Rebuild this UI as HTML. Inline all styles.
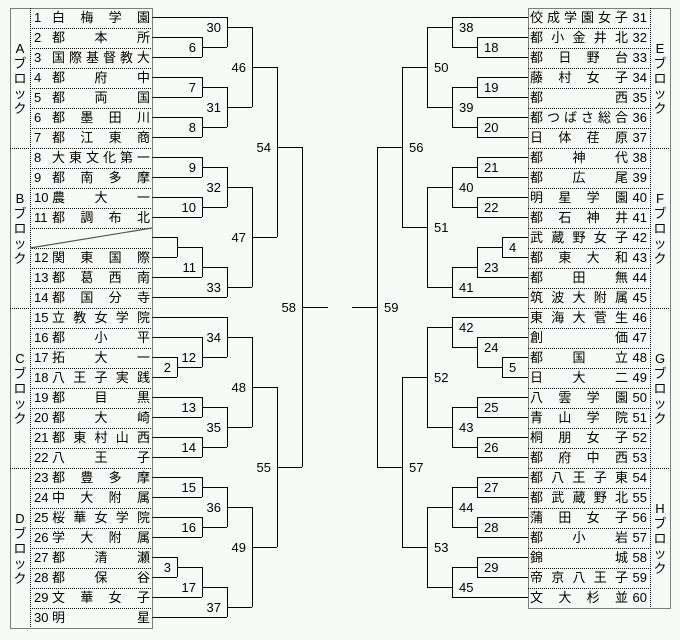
<!DOCTYPE html>
<html><head><meta charset="utf-8">
<style>
html,body{margin:0;padding:0}
body{width:680px;height:640px;position:relative;background:#f7fbf7;font-family:"Liberation Sans","Noto Sans CJK JP",sans-serif;font-size:13px;color:#000;overflow:hidden}
.L,.R{position:absolute;height:20px;width:122px}
.L{left:30px}.R{left:528px}
.n{position:absolute;top:2px;line-height:16px}
.L .n{left:4px}.R .n{right:3px}
.m{position:absolute;top:2px;line-height:16px;display:flex;justify-content:space-between}
.L .m{left:22px;right:2px}.R .m{left:2px;right:22px}
.m i{font-style:normal}
.blk{position:absolute;width:20px;display:flex;flex-direction:column;align-items:center;justify-content:center;line-height:15px;font-size:13px}
svg{position:absolute;left:0;top:0}
</style></head><body>
<svg width="680" height="640" xmlns="http://www.w3.org/2000/svg">
<g fill="none" stroke="#000" stroke-width="1" stroke-dasharray="1,1" shape-rendering="crispEdges">
<rect x="10.5" y="8.5" width="142" height="620"/>
<line x1="30.5" y1="8" x2="30.5" y2="628"/>
<path d="M30 28.5H152M30 48.5H152M30 68.5H152M30 88.5H152M30 108.5H152M30 128.5H152M10 148.5H152M30 168.5H152M30 188.5H152M30 208.5H152M30 228.5H152M30 248.5H152M30 268.5H152M30 288.5H152M10 308.5H152M30 328.5H152M30 348.5H152M30 368.5H152M30 388.5H152M30 408.5H152M30 428.5H152M30 448.5H152M10 468.5H152M30 488.5H152M30 508.5H152M30 528.5H152M30 548.5H152M30 568.5H152M30 588.5H152M30 608.5H152"/>
<rect x="528.5" y="8.5" width="142" height="600"/>
<line x1="650.5" y1="8" x2="650.5" y2="608"/>
<path d="M528 28.5H650M528 48.5H650M528 68.5H650M528 88.5H650M528 108.5H650M528 128.5H650M528 148.5H670M528 168.5H650M528 188.5H650M528 208.5H650M528 228.5H650M528 248.5H650M528 268.5H650M528 288.5H650M528 308.5H670M528 328.5H650M528 348.5H650M528 368.5H650M528 388.5H650M528 408.5H650M528 428.5H650M528 448.5H650M528 468.5H670M528 488.5H650M528 508.5H650M528 528.5H650M528 548.5H650M528 568.5H650M528 588.5H650"/>
</g>
<line x1="30" y1="248" x2="152" y2="228" stroke="#555" stroke-width="1.2"/>
<g fill="none" stroke="#000" stroke-width="1">
<path d="M152 17.5H227M152 37.5H202M152 57.5H202M152 77.5H202M152 97.5H202M152 117.5H202M152 137.5H202M152 157.5H202M152 177.5H202M152 197.5H202M152 217.5H202M152 237.5H177M152 257.5H177M152 277.5H202M152 297.5H227M152 317.5H227M152 337.5H202M152 357.5H177M152 377.5H177M152 397.5H202M152 417.5H202M152 437.5H202M152 457.5H202M152 477.5H202M152 497.5H202M152 517.5H202M152 537.5H202M152 557.5H177M152 577.5H177M152 597.5H202M152 617.5H227"/>
<path d="
M202.5 37V57M202 47.5H227
M202.5 77V97M202 87.5H227
M202.5 117V137M202 127.5H227
M227.5 17V47M227 27.5H252
M227.5 87V127M227 107.5H252
M252.5 27V107M252 67.5H277
M202.5 157V177M202 167.5H227
M202.5 197V217M202 207.5H227
M227.5 167V207M227 187.5H252
M177.5 237V257M177 247.5H202
M202.5 247V277M202 267.5H227
M227.5 267V297M227 287.5H252
M252.5 187V287M252 237.5H277
M277.5 67V237M277 147.5H302
M177.5 357V377M177 367.5H202
M202.5 337V367M202 357.5H227
M227.5 317V357M227 337.5H252
M202.5 397V417M202 407.5H227
M202.5 437V457M202 447.5H227
M227.5 407V447M227 427.5H252
M252.5 337V427M252 387.5H277
M202.5 477V497M202 487.5H227
M202.5 517V537M202 527.5H227
M227.5 487V527M227 507.5H252
M177.5 557V577M177 567.5H202
M202.5 567V597M202 587.5H227
M227.5 587V617M227 607.5H252
M252.5 507V607M252 547.5H277
M277.5 387V547M277 467.5H302
M302.5 147V467M302 307.5H328"/>
<path d="M528 17.5H452M528 37.5H477M528 57.5H477M528 77.5H477M528 97.5H477M528 117.5H477M528 137.5H477M528 157.5H477M528 177.5H477M528 197.5H477M528 217.5H477M528 237.5H502M528 257.5H502M528 277.5H477M528 297.5H452M528 317.5H452M528 337.5H477M528 357.5H502M528 377.5H502M528 397.5H477M528 417.5H477M528 437.5H477M528 457.5H477M528 477.5H477M528 497.5H477M528 517.5H477M528 537.5H477M528 557.5H477M528 577.5H477M528 597.5H452"/>
<path d="
M477.5 37V57M478 47.5H452
M452.5 17V47M453 27.5H427
M477.5 77V97M478 87.5H452
M477.5 117V137M478 127.5H452
M452.5 87V127M453 107.5H427
M427.5 27V107M428 67.5H402
M477.5 157V177M478 167.5H452
M477.5 197V217M478 207.5H452
M452.5 167V207M453 187.5H427
M502.5 237V257M503 247.5H477
M477.5 247V277M478 267.5H452
M452.5 267V297M453 287.5H427
M427.5 187V287M428 227.5H402
M402.5 67V227M403 147.5H377
M452.5 317V347M453 327.5H427
M477.5 337V367M478 347.5H452
M502.5 357V377M503 367.5H477
M477.5 397V417M478 407.5H452
M477.5 437V457M478 447.5H452
M452.5 407V447M453 427.5H427
M427.5 327V427M428 377.5H402
M477.5 477V497M478 487.5H452
M477.5 517V537M478 527.5H452
M452.5 487V527M453 507.5H427
M477.5 557V577M478 567.5H452
M452.5 567V597M453 587.5H427
M427.5 507V587M428 547.5H402
M402.5 377V547M403 467.5H377
M377.5 147V467M378 307.5H352"/>
</g>
<g font-family="Liberation Sans, sans-serif" font-size="13" fill="#000">
<g text-anchor="end">
<text x="196" y="52">6</text><text x="196" y="92">7</text><text x="196" y="132">8</text>
<text x="221" y="32">30</text><text x="221" y="112">31</text><text x="246" y="72">46</text>
<text x="196" y="172">9</text><text x="196" y="212">10</text><text x="221" y="192">32</text>
<text x="196" y="272">11</text><text x="221" y="292">33</text><text x="246" y="242">47</text>
<text x="271" y="152">54</text>
<text x="171" y="372">2</text><text x="196" y="362">12</text><text x="221" y="342">34</text>
<text x="196" y="412">13</text><text x="196" y="452">14</text><text x="221" y="432">35</text>
<text x="246" y="392">48</text>
<text x="196" y="492">15</text><text x="196" y="532">16</text><text x="221" y="512">36</text>
<text x="171" y="572">3</text><text x="196" y="592">17</text><text x="221" y="612">37</text>
<text x="246" y="552">49</text><text x="271" y="472">55</text><text x="296" y="312">58</text>
</g>
<g>
<text x="484" y="52">18</text><text x="459" y="32">38</text><text x="484" y="92">19</text>
<text x="484" y="132">20</text><text x="459" y="112">39</text><text x="434" y="72">50</text>
<text x="484" y="172">21</text><text x="484" y="212">22</text><text x="459" y="192">40</text>
<text x="509" y="252">4</text><text x="484" y="272">23</text><text x="459" y="292">41</text>
<text x="434" y="232">51</text><text x="409" y="152">56</text>
<text x="459" y="332">42</text><text x="484" y="352">24</text><text x="509" y="372">5</text>
<text x="484" y="412">25</text><text x="484" y="452">26</text><text x="459" y="432">43</text>
<text x="434" y="382">52</text>
<text x="484" y="492">27</text><text x="484" y="532">28</text><text x="459" y="512">44</text>
<text x="484" y="572">29</text><text x="459" y="592">45</text><text x="434" y="552">53</text>
<text x="409" y="472">57</text><text x="384" y="312">59</text>
</g>
</g>
</svg>

<div class="blk" style="left:10px;top:8px;height:140px"><span>A</span><span>ブ</span><span>ロ</span><span>ッ</span><span>ク</span></div>
<div class="blk" style="left:10px;top:148px;height:160px"><span>B</span><span>ブ</span><span>ロ</span><span>ッ</span><span>ク</span></div>
<div class="blk" style="left:10px;top:308px;height:160px"><span>C</span><span>ブ</span><span>ロ</span><span>ッ</span><span>ク</span></div>
<div class="blk" style="left:10px;top:468px;height:160px"><span>D</span><span>ブ</span><span>ロ</span><span>ッ</span><span>ク</span></div>
<div class="blk" style="left:650px;top:8px;height:140px"><span>E</span><span>ブ</span><span>ロ</span><span>ッ</span><span>ク</span></div>
<div class="blk" style="left:650px;top:148px;height:160px"><span>F</span><span>ブ</span><span>ロ</span><span>ッ</span><span>ク</span></div>
<div class="blk" style="left:650px;top:308px;height:160px"><span>G</span><span>ブ</span><span>ロ</span><span>ッ</span><span>ク</span></div>
<div class="blk" style="left:650px;top:468px;height:140px"><span>H</span><span>ブ</span><span>ロ</span><span>ッ</span><span>ク</span></div>

<div class="L" style="top:8px"><span class="n">1</span><span class="m"><i>白</i><i>梅</i><i>学</i><i>園</i></span></div>
<div class="L" style="top:28px"><span class="n">2</span><span class="m"><i>都</i><i>本</i><i>所</i></span></div>
<div class="L" style="top:48px"><span class="n">3</span><span class="m"><i>国</i><i>際</i><i>基</i><i>督</i><i>教</i><i>大</i></span></div>
<div class="L" style="top:68px"><span class="n">4</span><span class="m"><i>都</i><i>府</i><i>中</i></span></div>
<div class="L" style="top:88px"><span class="n">5</span><span class="m"><i>都</i><i>両</i><i>国</i></span></div>
<div class="L" style="top:108px"><span class="n">6</span><span class="m"><i>都</i><i>墨</i><i>田</i><i>川</i></span></div>
<div class="L" style="top:128px"><span class="n">7</span><span class="m"><i>都</i><i>江</i><i>東</i><i>商</i></span></div>
<div class="L" style="top:148px"><span class="n">8</span><span class="m"><i>大</i><i>東</i><i>文</i><i>化</i><i>第</i><i>一</i></span></div>
<div class="L" style="top:168px"><span class="n">9</span><span class="m"><i>都</i><i>南</i><i>多</i><i>摩</i></span></div>
<div class="L" style="top:188px"><span class="n">10</span><span class="m"><i>農</i><i>大</i><i>一</i></span></div>
<div class="L" style="top:208px"><span class="n">11</span><span class="m"><i>都</i><i>調</i><i>布</i><i>北</i></span></div>
<div class="L" style="top:248px"><span class="n">12</span><span class="m"><i>関</i><i>東</i><i>国</i><i>際</i></span></div>
<div class="L" style="top:268px"><span class="n">13</span><span class="m"><i>都</i><i>葛</i><i>西</i><i>南</i></span></div>
<div class="L" style="top:288px"><span class="n">14</span><span class="m"><i>都</i><i>国</i><i>分</i><i>寺</i></span></div>
<div class="L" style="top:308px"><span class="n">15</span><span class="m"><i>立</i><i>教</i><i>女</i><i>学</i><i>院</i></span></div>
<div class="L" style="top:328px"><span class="n">16</span><span class="m"><i>都</i><i>小</i><i>平</i></span></div>
<div class="L" style="top:348px"><span class="n">17</span><span class="m"><i>拓</i><i>大</i><i>一</i></span></div>
<div class="L" style="top:368px"><span class="n">18</span><span class="m"><i>八</i><i>王</i><i>子</i><i>実</i><i>践</i></span></div>
<div class="L" style="top:388px"><span class="n">19</span><span class="m"><i>都</i><i>目</i><i>黒</i></span></div>
<div class="L" style="top:408px"><span class="n">20</span><span class="m"><i>都</i><i>大</i><i>崎</i></span></div>
<div class="L" style="top:428px"><span class="n">21</span><span class="m"><i>都</i><i>東</i><i>村</i><i>山</i><i>西</i></span></div>
<div class="L" style="top:448px"><span class="n">22</span><span class="m"><i>八</i><i>王</i><i>子</i></span></div>
<div class="L" style="top:468px"><span class="n">23</span><span class="m"><i>都</i><i>豊</i><i>多</i><i>摩</i></span></div>
<div class="L" style="top:488px"><span class="n">24</span><span class="m"><i>中</i><i>大</i><i>附</i><i>属</i></span></div>
<div class="L" style="top:508px"><span class="n">25</span><span class="m"><i>桜</i><i>華</i><i>女</i><i>学</i><i>院</i></span></div>
<div class="L" style="top:528px"><span class="n">26</span><span class="m"><i>学</i><i>大</i><i>附</i><i>属</i></span></div>
<div class="L" style="top:548px"><span class="n">27</span><span class="m"><i>都</i><i>清</i><i>瀬</i></span></div>
<div class="L" style="top:568px"><span class="n">28</span><span class="m"><i>都</i><i>保</i><i>谷</i></span></div>
<div class="L" style="top:588px"><span class="n">29</span><span class="m"><i>文</i><i>華</i><i>女</i><i>子</i></span></div>
<div class="L" style="top:608px"><span class="n">30</span><span class="m"><i>明</i><i>星</i></span></div>

<div class="R" style="top:8px"><span class="m"><i>佼</i><i>成</i><i>学</i><i>園</i><i>女</i><i>子</i></span><span class="n">31</span></div>
<div class="R" style="top:28px"><span class="m"><i>都</i><i>小</i><i>金</i><i>井</i><i>北</i></span><span class="n">32</span></div>
<div class="R" style="top:48px"><span class="m"><i>都</i><i>日</i><i>野</i><i>台</i></span><span class="n">33</span></div>
<div class="R" style="top:68px"><span class="m"><i>藤</i><i>村</i><i>女</i><i>子</i></span><span class="n">34</span></div>
<div class="R" style="top:88px"><span class="m"><i>都</i><i>西</i></span><span class="n">35</span></div>
<div class="R" style="top:108px"><span class="m"><i>都</i><i>つ</i><i>ば</i><i>さ</i><i>総</i><i>合</i></span><span class="n">36</span></div>
<div class="R" style="top:128px"><span class="m"><i>日</i><i>体</i><i>荏</i><i>原</i></span><span class="n">37</span></div>
<div class="R" style="top:148px"><span class="m"><i>都</i><i>神</i><i>代</i></span><span class="n">38</span></div>
<div class="R" style="top:168px"><span class="m"><i>都</i><i>広</i><i>尾</i></span><span class="n">39</span></div>
<div class="R" style="top:188px"><span class="m"><i>明</i><i>星</i><i>学</i><i>園</i></span><span class="n">40</span></div>
<div class="R" style="top:208px"><span class="m"><i>都</i><i>石</i><i>神</i><i>井</i></span><span class="n">41</span></div>
<div class="R" style="top:228px"><span class="m"><i>武</i><i>蔵</i><i>野</i><i>女</i><i>子</i></span><span class="n">42</span></div>
<div class="R" style="top:248px"><span class="m"><i>都</i><i>東</i><i>大</i><i>和</i></span><span class="n">43</span></div>
<div class="R" style="top:268px"><span class="m"><i>都</i><i>田</i><i>無</i></span><span class="n">44</span></div>
<div class="R" style="top:288px"><span class="m"><i>筑</i><i>波</i><i>大</i><i>附</i><i>属</i></span><span class="n">45</span></div>
<div class="R" style="top:308px"><span class="m"><i>東</i><i>海</i><i>大</i><i>菅</i><i>生</i></span><span class="n">46</span></div>
<div class="R" style="top:328px"><span class="m"><i>創</i><i>価</i></span><span class="n">47</span></div>
<div class="R" style="top:348px"><span class="m"><i>都</i><i>国</i><i>立</i></span><span class="n">48</span></div>
<div class="R" style="top:368px"><span class="m"><i>日</i><i>大</i><i>二</i></span><span class="n">49</span></div>
<div class="R" style="top:388px"><span class="m"><i>八</i><i>雲</i><i>学</i><i>園</i></span><span class="n">50</span></div>
<div class="R" style="top:408px"><span class="m"><i>青</i><i>山</i><i>学</i><i>院</i></span><span class="n">51</span></div>
<div class="R" style="top:428px"><span class="m"><i>桐</i><i>朋</i><i>女</i><i>子</i></span><span class="n">52</span></div>
<div class="R" style="top:448px"><span class="m"><i>都</i><i>府</i><i>中</i><i>西</i></span><span class="n">53</span></div>
<div class="R" style="top:468px"><span class="m"><i>都</i><i>八</i><i>王</i><i>子</i><i>東</i></span><span class="n">54</span></div>
<div class="R" style="top:488px"><span class="m"><i>都</i><i>武</i><i>蔵</i><i>野</i><i>北</i></span><span class="n">55</span></div>
<div class="R" style="top:508px"><span class="m"><i>蒲</i><i>田</i><i>女</i><i>子</i></span><span class="n">56</span></div>
<div class="R" style="top:528px"><span class="m"><i>都</i><i>小</i><i>岩</i></span><span class="n">57</span></div>
<div class="R" style="top:548px"><span class="m"><i>錦</i><i>城</i></span><span class="n">58</span></div>
<div class="R" style="top:568px"><span class="m"><i>帝</i><i>京</i><i>八</i><i>王</i><i>子</i></span><span class="n">59</span></div>
<div class="R" style="top:588px"><span class="m"><i>文</i><i>大</i><i>杉</i><i>並</i></span><span class="n">60</span></div>
</body></html>
